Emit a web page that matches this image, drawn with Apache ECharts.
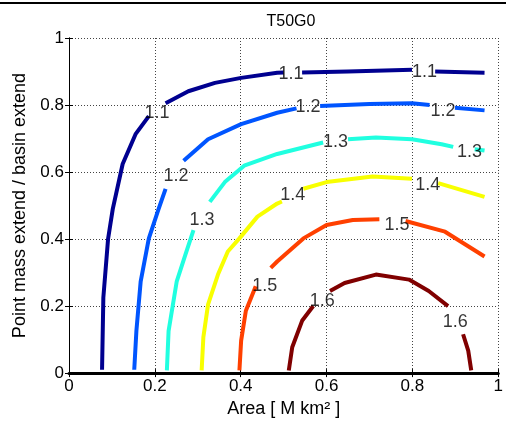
<!DOCTYPE html>
<html>
<head>
<meta charset="utf-8">
<script src="https://cdn.jsdelivr.net/npm/echarts@6/dist/echarts.min.js"></script>
<style>html,body{margin:0;padding:0;background:#fff}#c{width:506px;height:423px}</style>
</head>
<body>
<div id="c"></div>
<script>
// Contour levels and colours
const levels = ['1.1','1.2','1.3','1.4','1.5','1.6'];
const colors = ['#000090','#0055ff','#20ffe0','#f8ff00','#ff4000','#800000'];
const xTicks = [0,0.2,0.4,0.6,0.8,1];
const yTicks = [0,0.2,0.4,0.6,0.8,1];

// Contour segments (gaps at labels)
const c11 = [
  [[0.077,0.01],[0.080,0.225],[0.091,0.40],[0.102,0.49],[0.125,0.624],[0.155,0.713],[0.186,0.767]],
  [[0.225,0.805],[0.278,0.841],[0.340,0.866],[0.401,0.881],[0.485,0.896],[0.500,0.897]],
  [[0.543,0.897],[0.650,0.900],[0.799,0.905]],
  [[0.853,0.900],[0.968,0.896]]
];
const c12 = [
  [[0.152,0.01],[0.157,0.126],[0.167,0.274],[0.186,0.402],[0.209,0.491],[0.225,0.55]],
  [[0.267,0.634],[0.324,0.698],[0.401,0.743],[0.485,0.777],[0.530,0.790]],
  [[0.585,0.797],[0.700,0.803],[0.799,0.805],[0.840,0.800]],
  [[0.899,0.792],[0.968,0.784]]
];
const c13 = [
  [[0.228,0.008],[0.232,0.126],[0.251,0.274],[0.271,0.353],[0.290,0.427]],
  [[0.328,0.511],[0.363,0.570],[0.408,0.619],[0.485,0.654],[0.592,0.688]],
  [[0.650,0.698],[0.715,0.703],[0.799,0.698],[0.868,0.683],[0.895,0.675]],
  [[0.945,0.668],[0.968,0.664]]
];
const c14 = [
  [[0.309,0.008],[0.313,0.107],[0.324,0.205],[0.347,0.294],[0.370,0.363],[0.397,0.402],[0.439,0.467],[0.485,0.506],[0.496,0.512]],
  [[0.546,0.550],[0.600,0.570],[0.707,0.587],[0.799,0.580]],
  [[0.860,0.567],[0.968,0.526]]
];
const c15 = [
  [[0.397,0.008],[0.401,0.097],[0.412,0.186],[0.435,0.259]],
  [[0.470,0.314],[0.485,0.333],[0.546,0.402],[0.600,0.442],[0.661,0.457],[0.723,0.459]],
  [[0.784,0.454],[0.876,0.422],[0.968,0.348]]
];
const c16 = [
  [[0.512,0.008],[0.520,0.077],[0.543,0.156],[0.569,0.200]],
  [[0.608,0.245],[0.642,0.269],[0.715,0.294],[0.792,0.279],[0.838,0.245],[0.883,0.200]],
  [[0.918,0.116],[0.930,0.067],[0.937,0.008]]
];
const contours = [c11,c12,c13,c14,c15,c16];

// Contour label positions [x, y, level]
const labelPts = [
  [0.205,0.775,'1.1'],[0.517,0.891,'1.1'],[0.828,0.898,'1.1'],
  [0.249,0.587,'1.2'],[0.557,0.793,'1.2'],[0.871,0.783,'1.2'],
  [0.310,0.457,'1.3'],[0.621,0.689,'1.3'],[0.933,0.661,'1.3'],
  [0.521,0.531,'1.4'],[0.836,0.561,'1.4'],
  [0.456,0.260,'1.5'],[0.764,0.442,'1.5'],
  [0.590,0.216,'1.6'],[0.900,0.151,'1.6']
];

const FONT = 'Liberation Sans, Arial, sans-serif';
const series = [];
contours.forEach((segs, i) => {
  segs.forEach(seg => {
    series.push({
      type: 'line', data: seg, symbol: 'none', smooth: false,
      lineStyle: { color: colors[i], width: 4, cap: 'butt', join: 'round' }, silent: true, z: 3
    });
  });
});
series.push({
  type: 'scatter', data: labelPts, symbolSize: 2,
  itemStyle: { color: 'rgba(0,0,0,0)' }, z: 5, silent: true,
  label: { show: true, position: 'inside', formatter: p => p.data[2],
    color: '#000', fontSize: 18, fontFamily: FONT }
});

const chart = echarts.init(document.getElementById('c'), null, { renderer: 'canvas' });
const axisBase = {
  type: 'value', min: 0, max: 1, interval: 0.2,
  axisLine: { show: true, lineStyle: { color: '#000', width: 1 } },
  axisTick: { show: true, inside: true, length: 4, lineStyle: { color: '#000' } },
};
chart.setOption({
  animation: false,
  backgroundColor: '#fff',
  title: { text: 'T50G0', left: 286, top: 9, textAlign: 'center',
    textStyle: { fontSize: 16, fontWeight: 'normal', fontFamily: FONT, color: '#000' } },
  grid: { left: 69, right: 2, top: 38, bottom: 47 },
  xAxis: [
    Object.assign({}, axisBase, {
      position: 'bottom',
      name: 'Area [ M km² ]', nameLocation: 'middle', nameGap: 22,
      nameTextStyle: { fontSize: 18, fontFamily: FONT, color: '#000' },
      axisLabel: { fontSize: 17, fontFamily: FONT, color: '#000', margin: 5,
        formatter: v => xTicks.includes(v) ? String(v) : '' },
      splitLine: { show: true, lineStyle: { color: '#444', type: [1, 2], width: 1 } }
    }),
    Object.assign({}, axisBase, {
      position: 'top', axisLabel: { show: false }, splitLine: { show: false },
      axisLine: { show: true, lineStyle: { color: '#000', width: 3 } }
    })
  ],
  yAxis: [
    Object.assign({}, axisBase, {
      position: 'left',
      name: 'Point mass extend / basin extend', nameLocation: 'middle', nameGap: 37,
      nameTextStyle: { fontSize: 18, fontFamily: FONT, color: '#000' },
      axisLabel: { fontSize: 17, fontFamily: FONT, color: '#000', margin: 5,
        formatter: v => yTicks.includes(v) ? String(v) : '' },
      splitLine: { show: true, lineStyle: { color: '#444', type: [1, 2], width: 1 } }
    }),
    Object.assign({}, axisBase, {
      position: 'right', axisLabel: { show: false }, splitLine: { show: false }
    })
  ],
  graphic: [
    { type: 'line', shape: { x1: 0, y1: 3, x2: 506, y2: 3 },
      style: { stroke: '#000', lineWidth: 2 } }
  ],
  series: series
});
</script>
</body>
</html>
